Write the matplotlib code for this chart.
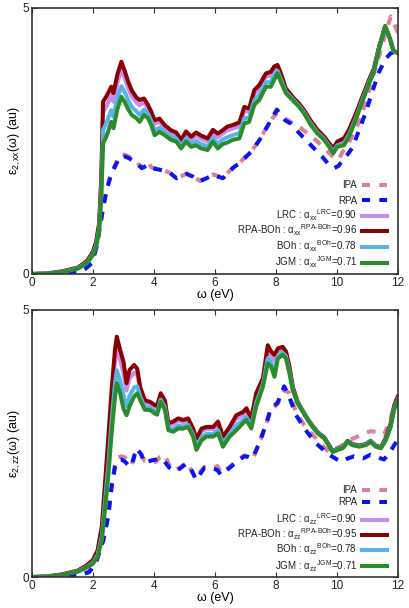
import matplotlib
matplotlib.use("Agg")
import matplotlib.pyplot as plt

plt.rcParams['font.family'] = ['Liberation Sans', 'DejaVu Sans']
plt.rcParams['mathtext.fontset'] = 'custom'
plt.rcParams['mathtext.rm'] = 'Liberation Sans'
plt.rcParams['mathtext.it'] = 'Liberation Sans'
plt.rcParams['mathtext.fallback'] = 'cm'

# ---------------- xx component (top panel) ----------------
w_xx_s = [0.0, 0.5, 1.0, 1.5, 1.8, 2.0, 2.1, 2.2, 2.27, 2.33, 2.45, 2.6, 2.67, 2.8, 2.93,
          3.05, 3.15, 3.27, 3.42, 3.53, 3.67, 3.8, 3.91, 4.02, 4.18, 4.35, 4.56, 4.73, 4.89,
          5.05, 5.22, 5.38, 5.55, 5.76, 5.93, 6.09, 6.25, 6.4, 6.58, 6.8, 6.96, 7.12, 7.29,
          7.45, 7.67, 7.83, 7.94, 8.05, 8.16, 8.32, 8.59, 8.76, 8.92, 9.14, 9.36, 9.58, 9.74,
          9.88, 10.01, 10.23, 10.39, 10.61, 10.83, 11.05, 11.21, 11.37, 11.58, 11.72, 11.85, 12.0]
jgm_xx = [0.0, 0.01, 0.04, 0.1, 0.2, 0.36, 0.5, 0.8, 1.4, 2.45, 2.6, 2.86, 2.74, 3.1, 3.33,
          3.22, 3.1, 2.99, 2.93, 2.86, 2.99, 2.93, 2.8, 2.61, 2.67, 2.61, 2.52, 2.49, 2.36,
          2.49, 2.39, 2.42, 2.36, 2.33, 2.49, 2.36, 2.44, 2.47, 2.52, 2.55, 2.83, 2.86, 3.18,
          3.27, 3.52, 3.52, 3.65, 3.77, 3.61, 3.40, 3.24, 3.14, 3.02, 2.80, 2.64, 2.52, 2.39,
          2.27, 2.39, 2.42, 2.58, 2.89, 3.24, 3.58, 3.80, 4.21, 4.65, 4.45, 4.2, 4.15]
rpaboh_xx = [0.0, 0.01, 0.05, 0.12, 0.24, 0.42, 0.6, 0.95, 1.8, 3.24, 3.35, 3.52, 3.40, 3.75, 3.99,
             3.80, 3.62, 3.45, 3.32, 3.27, 3.30, 3.18, 3.05, 2.89, 2.92, 2.80, 2.70, 2.66, 2.52,
             2.68, 2.58, 2.66, 2.60, 2.55, 2.71, 2.64, 2.70, 2.77, 2.80, 2.85, 3.14, 3.11, 3.46,
             3.55, 3.77, 3.80, 3.90, 3.93, 3.77, 3.49, 3.30, 3.20, 3.08, 2.88, 2.71, 2.58, 2.46,
             2.36, 2.49, 2.55, 2.71, 3.0, 3.33, 3.65, 3.86, 4.25, 4.66, 4.45, 4.2, 4.15]
lrc_xx = [0.0, 0.01, 0.05, 0.12, 0.23, 0.41, 0.58, 0.91, 1.7, 3.04, 3.16, 3.36, 3.24, 3.59, 3.85,
          3.66, 3.50, 3.34, 3.23, 3.17, 3.23, 3.12, 2.99, 2.82, 2.86, 2.75, 2.66, 2.62, 2.48,
          2.63, 2.53, 2.60, 2.54, 2.49, 2.65, 2.57, 2.64, 2.70, 2.73, 2.78, 3.06, 3.05, 3.39,
          3.48, 3.71, 3.73, 3.84, 3.89, 3.73, 3.47, 3.29, 3.19, 3.07, 2.86, 2.69, 2.57, 2.44,
          2.34, 2.47, 2.52, 2.68, 2.97, 3.31, 3.63, 3.85, 4.24, 4.66, 4.45, 4.2, 4.15]
boh_xx = [0.0, 0.01, 0.04, 0.11, 0.21, 0.38, 0.53, 0.85, 1.53, 2.71, 2.85, 3.08, 2.96, 3.31, 3.53,
          3.41, 3.27, 3.14, 3.06, 2.99, 3.09, 3.01, 2.88, 2.70, 2.75, 2.67, 2.58, 2.55, 2.41,
          2.55, 2.45, 2.50, 2.44, 2.40, 2.56, 2.45, 2.53, 2.57, 2.61, 2.65, 2.93, 2.94, 3.27,
          3.36, 3.60, 3.61, 3.73, 3.82, 3.66, 3.43, 3.26, 3.16, 3.04, 2.83, 2.66, 2.54, 2.41,
          2.30, 2.42, 2.46, 2.62, 2.92, 3.27, 3.60, 3.82, 4.22, 4.65, 4.45, 4.2, 4.15]

w_xx_d = [0.0, 0.5, 1.0, 1.5, 1.75, 1.96, 2.12, 2.23, 2.34, 2.45, 2.56, 2.72, 2.89, 3.05, 3.2,
          3.43, 3.6, 3.81, 3.92, 4.19, 4.36, 4.52, 4.74, 4.9, 5.07, 5.28, 5.5, 5.72, 5.94, 6.1,
          6.26, 6.48, 6.64, 6.81, 7.03, 7.24, 7.46, 7.68, 7.9, 8.03, 8.12, 8.3, 8.48, 8.76, 9.08,
          9.3, 9.52, 9.7, 9.9, 10.05, 10.19, 10.35, 10.5, 10.73, 10.95, 11.17, 11.38, 11.6,
          11.76, 11.88, 12.0]
rpa_xx = [0.0, 0.0, 0.01, 0.04, 0.1, 0.2, 0.51, 0.89, 1.27, 1.58, 1.8, 2.02, 2.21, 2.21, 2.17,
          2.08, 1.99, 2.05, 1.99, 1.96, 1.93, 1.9, 1.8, 1.83, 1.88, 1.83, 1.74, 1.8, 1.86, 1.83,
          1.8, 1.93, 2.02, 2.08, 2.21, 2.33, 2.52, 2.74, 2.96, 3.09, 3.02, 2.89, 2.83, 2.65, 2.46,
          2.33, 2.2, 2.08, 1.99, 2.03, 2.15, 2.25, 2.37, 2.71, 3.05, 3.45, 3.8, 4.05,
          4.15, 4.17, 4.15]
ipa_xx = [0.0, 0.0, 0.01, 0.04, 0.1, 0.22, 0.53, 0.9, 1.28, 1.6, 1.82, 2.05, 2.24, 2.24, 2.2,
          2.1, 2.0, 2.11, 2.0, 1.97, 1.94, 1.9, 1.81, 1.84, 1.89, 1.84, 1.75, 1.81, 1.87, 1.84,
          1.81, 1.94, 2.03, 2.09, 2.22, 2.34, 2.53, 2.74, 2.94, 3.02, 3.02, 2.92, 2.86, 2.77, 2.62,
          2.52, 2.4, 2.3, 2.18, 2.15, 2.3, 2.43, 2.6, 2.87, 3.25, 3.7, 4.1, 4.53,
          4.84, 4.7, 4.53]

# ---------------- zz component (bottom panel) ----------------
w_zz_s = [0.0, 0.5, 1.0, 1.5, 1.8, 2.0, 2.15, 2.29, 2.4, 2.5, 2.61, 2.72, 2.78, 2.89, 3.0,
          3.1, 3.2, 3.35, 3.45, 3.55, 3.7, 3.87, 4.03, 4.1, 4.22, 4.36, 4.47, 4.63, 4.79, 4.96,
          5.12, 5.28, 5.39, 5.56, 5.72, 5.94, 6.1, 6.26, 6.48, 6.7, 6.92, 7.03, 7.19, 7.35,
          7.57, 7.73, 7.84, 7.95, 8.06, 8.22, 8.33, 8.44, 8.55, 8.71, 8.88, 9.04, 9.2, 9.37,
          9.59, 9.75, 9.86, 10.02, 10.19, 10.35, 10.5, 10.73, 10.95, 11.1, 11.27, 11.44, 11.6,
          11.76, 11.87, 12.0]
jgm_zz = [0.0, 0.01, 0.04, 0.1, 0.18, 0.25, 0.38, 0.69, 1.31, 1.88, 2.69, 3.37, 3.63, 3.44, 3.15,
          3.03, 3.2, 3.38, 3.44, 3.31, 3.13, 3.13, 3.06, 3.04, 3.28, 3.13, 2.75, 2.72, 2.78, 2.78,
          2.81, 2.63, 2.38, 2.56, 2.63, 2.63, 2.69, 2.44, 2.63, 2.75, 2.88, 2.94, 2.78, 3.19,
          3.56, 4.0, 3.94, 3.75, 4.09, 4.16, 4.09, 3.81, 3.5, 3.25, 3.09, 2.94, 2.81, 2.69,
          2.59, 2.44, 2.34, 2.38, 2.41, 2.53, 2.47, 2.44, 2.47, 2.53, 2.44, 2.41, 2.56,
          2.81, 3.13, 3.31]
rpaboh_zz = [0.0, 0.01, 0.05, 0.12, 0.22, 0.32, 0.5, 0.95, 1.8, 2.6, 3.5, 4.25, 4.5, 4.25, 4.03,
             3.63, 3.88, 3.97, 3.9, 3.55, 3.31, 3.28, 3.22, 3.2, 3.44, 3.3, 2.88, 2.91, 2.97, 2.94,
             2.97, 2.78, 2.59, 2.78, 2.81, 2.81, 2.91, 2.63, 2.81, 3.03, 3.09, 3.16, 2.97, 3.44,
             3.72, 4.34, 4.22, 4.16, 4.28, 4.31, 4.22, 3.94, 3.56, 3.28, 3.11, 2.96, 2.83, 2.71,
             2.61, 2.46, 2.36, 2.40, 2.43, 2.55, 2.49, 2.46, 2.49, 2.55, 2.46, 2.43, 2.6,
             2.88, 3.2, 3.38]
lrc_zz = [0.0, 0.01, 0.05, 0.12, 0.21, 0.30, 0.47, 0.89, 1.68, 2.43, 3.31, 4.04, 4.29, 4.06, 3.82,
          3.49, 3.72, 3.83, 3.79, 3.49, 3.27, 3.24, 3.18, 3.16, 3.40, 3.26, 2.85, 2.86, 2.92, 2.90,
          2.93, 2.74, 2.54, 2.73, 2.77, 2.77, 2.86, 2.58, 2.77, 2.96, 3.04, 3.11, 2.92, 3.38,
          3.68, 4.26, 4.15, 4.06, 4.23, 4.27, 4.19, 3.91, 3.55, 3.27, 3.11, 2.96, 2.83, 2.71,
          2.61, 2.46, 2.36, 2.40, 2.43, 2.55, 2.49, 2.46, 2.49, 2.55, 2.46, 2.43, 2.59,
          2.86, 3.18, 3.36]
boh_zz = [0.0, 0.01, 0.04, 0.11, 0.19, 0.27, 0.41, 0.76, 1.45, 2.08, 2.92, 3.62, 3.87, 3.67, 3.40,
          3.20, 3.39, 3.55, 3.57, 3.38, 3.18, 3.17, 3.10, 3.08, 3.32, 3.18, 2.79, 2.77, 2.83, 2.82,
          2.85, 2.67, 2.44, 2.62, 2.68, 2.68, 2.75, 2.49, 2.68, 2.83, 2.94, 3.0, 2.83, 3.26,
          3.61, 4.10, 4.02, 3.86, 4.14, 4.20, 4.13, 3.85, 3.52, 3.26, 3.10, 2.95, 2.82, 2.70,
          2.60, 2.45, 2.35, 2.39, 2.42, 2.54, 2.48, 2.45, 2.48, 2.54, 2.45, 2.42, 2.57,
          2.83, 3.15, 3.33]

w_zz_d = [0.0, 0.5, 1.0, 1.5, 1.87, 2.09, 2.34, 2.5, 2.61, 2.72, 2.83, 2.94, 3.05, 3.16, 3.26,
          3.42, 3.58, 3.69, 3.9, 4.07, 4.2, 4.35, 4.5, 4.67, 4.85, 5.05, 5.16, 5.27, 5.38, 5.5,
          5.65, 5.82, 6.0, 6.08, 6.2, 6.47, 6.7, 6.96, 7.1, 7.23, 7.45, 7.67, 7.83, 8.05, 8.27,
          8.43, 8.65, 8.92, 9.3, 9.74, 10.12, 10.35, 10.56, 10.85, 11.1, 11.3, 11.54, 11.75,
          11.92, 12.0]
rpa_zz = [0.0, 0.0, 0.01, 0.03, 0.09, 0.25, 0.69, 1.13, 1.69, 2.06, 2.19, 2.2, 2.16, 2.09, 2.07,
          2.41, 2.3, 2.14, 2.18, 2.2, 2.22, 2.16, 2.05, 1.98, 2.03, 2.12, 2.08, 1.95, 1.82, 1.92,
          2.04, 2.04, 2.02, 2.0, 1.91, 2.04, 2.15, 2.26, 2.25, 2.22, 2.51, 2.85, 3.16, 3.26, 3.57,
          3.38, 3.04, 2.79, 2.51, 2.29, 2.16, 2.22, 2.26, 2.22, 2.29, 2.25, 2.2, 2.35,
          2.51, 2.6]
ipa_zz = [0.0, 0.0, 0.01, 0.03, 0.1, 0.27, 0.72, 1.16, 1.72, 2.1, 2.24, 2.26, 2.24, 2.15, 2.1,
          2.35, 2.29, 2.18, 2.14, 2.16, 2.25, 2.29, 2.1, 1.99, 2.05, 2.14, 2.06, 1.95, 1.86, 1.96,
          2.06, 2.06, 2.06, 2.08, 1.95, 2.06, 2.17, 2.28, 2.24, 2.2, 2.5, 2.84, 3.12, 3.24, 3.5,
          3.45, 3.1, 2.85, 2.6, 2.33, 2.45, 2.55, 2.6, 2.68, 2.73, 2.72, 2.66, 2.95,
          3.3, 3.4]

x_ticks = [0, 2, 4, 6, 8, 10, 12]
y_ticks = [0, 5]
alpha_lrc = '0.90'
alpha_rpaboh = {'xx': '0.96', 'zz': '0.95'}
alpha_boh = '0.78'
alpha_jgm = '0.71'

c_ipa = '#dc7f9c'
c_rpa = '#0a14f0'
c_lrc = '#c88cf0'
c_rpaboh = '#8b0000'
c_boh = '#56b4e9'
c_jgm = '#2a8c2a'

fig = plt.figure(figsize=(4.10, 6.08), dpi=100)
ax1 = fig.add_axes([32/410, 1-274/608, 366/410, 266/608])
ax2 = fig.add_axes([32/410, 1-577/608, 366/410, 267/608])

LW = 2.9
DASH = (2.2, 2.2)
panels = [
    (ax1, 'xx', w_xx_s, jgm_xx, rpaboh_xx, lrc_xx, boh_xx, w_xx_d, ipa_xx, rpa_xx,
     [0.335, 0.277, 0.218, 0.162, 0.102, 0.043]),
    (ax2, 'zz', w_zz_s, jgm_zz, rpaboh_zz, lrc_zz, boh_zz, w_zz_d, ipa_zz, rpa_zz,
     [0.326, 0.282, 0.213, 0.157, 0.101, 0.040]),
]
for ax, comp, ws, jg, rb, lr, bo, wd, ip, rp, rows in panels:
    ax.plot(wd, ip, color=c_ipa, lw=LW, dashes=DASH)
    ax.plot(wd, rp, color=c_rpa, lw=LW, dashes=DASH)
    ax.plot(ws, lr, color=c_lrc, lw=LW)
    ax.plot(ws, rb, color=c_rpaboh, lw=LW)
    ax.plot(ws, bo, color=c_boh, lw=LW)
    ax.plot(ws, jg, color=c_jgm, lw=LW)

    labels = ['IPA', 'RPA',
              r'LRC : $\alpha_{%s}{}^{\rm LRC}$=%s' % (comp, alpha_lrc),
              r'RPA-BOh : $\alpha_{%s}{}^{\rm RPA\text{-}BOh}$=%s' % (comp, alpha_rpaboh[comp]),
              r'BOh : $\alpha_{%s}{}^{\rm BOh}$=%s' % (comp, alpha_boh),
              r'JGM : $\alpha_{%s}{}^{\rm JGM}$=%s' % (comp, alpha_jgm)]
    colors = [c_ipa, c_rpa, c_lrc, c_rpaboh, c_boh, c_jgm]
    dashed = [True, True, False, False, False, False]
    for lab, col, dsh, yc in zip(labels, colors, dashed, rows):
        ax.text(0.888, yc - 0.013, lab, transform=ax.transAxes, ha='right', va='baseline',
                fontsize=7, color='#222222')
        kw = dict(dashes=(2.0, 2.3)) if dsh else {}
        ax.plot([0.902, 0.970], [yc, yc], transform=ax.transAxes, color=col, lw=LW,
                clip_on=False, **kw)

    ax.set_xlim(0, 12)
    ax.set_ylim(0, 5)
    ax.set_xticks(x_ticks)
    ax.set_yticks(y_ticks)
    ax.tick_params(direction='in', top=True, right=True, length=3.5, width=0.8,
                   labelsize=8.5, pad=2, colors='#333333', labelcolor='#222222')
    for s in ax.spines.values():
        s.set_linewidth(1.2)
        s.set_color('#333333')
    ax.set_xlabel('ω (eV)', fontsize=9, labelpad=0)
    ax.set_ylabel(r'ε$_{2,%s}$(ω) (au)' % comp, fontsize=9, labelpad=0)

fig.savefig('out.png', dpi=100)
